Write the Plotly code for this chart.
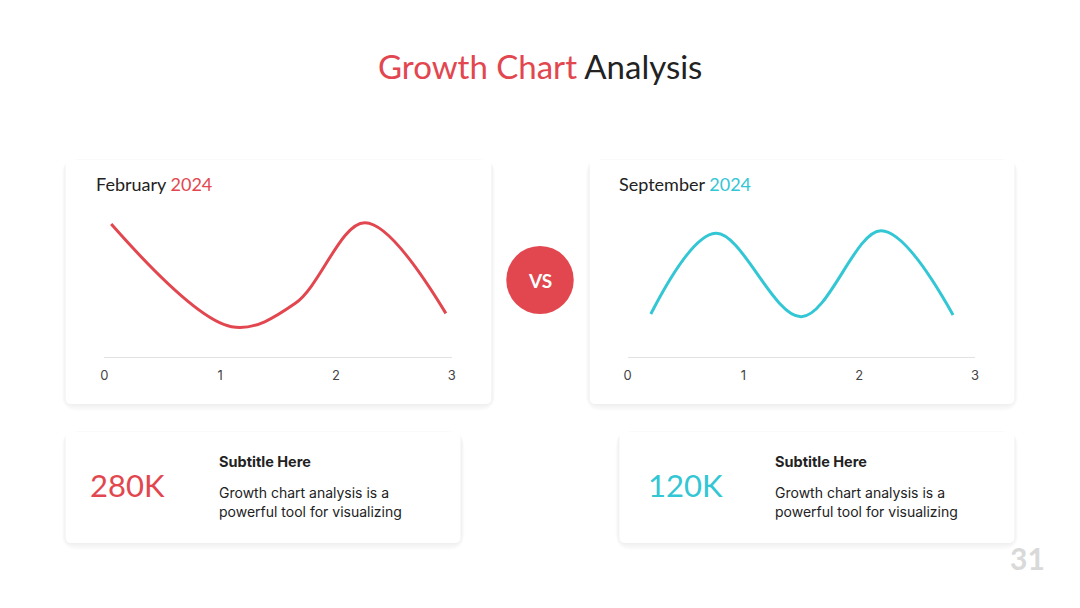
import plotly.graph_objects as go

W, H = 1080, 608
RED = "#E2474F"
CYAN = "#33C6D4"
DARK = "#222222"

# ---------------- data ----------------
feb_x = [0.06, 1.1, 1.65, 2.25, 2.95]
feb_y = [8.47, 1.93, 3.42, 8.55, 2.78]
sep_x = [0.2, 0.76, 1.5, 2.19, 2.81]
sep_y = [2.74, 7.88, 2.57, 8.04, 2.68]
tick_vals = [0, 1, 2, 3]
tick_text = ["0", "1", "2", "3"]
kpi_left = "280K"
kpi_right = "120K"

def px(x):
    return x / W

def py(y):
    return 1 - y / H

fig = go.Figure()

fig.add_trace(go.Scatter(x=feb_x, y=feb_y, mode="lines",
                         line=dict(color=RED, width=3, shape="spline", smoothing=1.0),
                         xaxis="x", yaxis="y", hoverinfo="skip", showlegend=False))
fig.add_trace(go.Scatter(x=sep_x, y=sep_y, mode="lines",
                         line=dict(color=CYAN, width=3, shape="spline", smoothing=1.0),
                         xaxis="x2", yaxis="y2", hoverinfo="skip", showlegend=False))

axis_common = dict(range=[0, 3], tickvals=tick_vals, ticktext=tick_text, showgrid=False,
                   zeroline=False, showline=True, linecolor="#E2E2E2", linewidth=1,
                   ticks="", tickfont=dict(family="Inter", size=13, color="#444444"),
                   fixedrange=True, ticklabelstandoff=6)
yaxis_common = dict(range=[0, 10], visible=False, fixedrange=True)

shapes = []

def rounded_rect(x0, y0, x1, y1, r=8):
    X0, X1 = px(x0), px(x1)
    Y0, Y1 = py(y0), py(y1)
    rx, ry = r / W, r / H
    return (f"M {X0+rx},{Y0} L {X1-rx},{Y0} Q {X1},{Y0} {X1},{Y0-ry} "
            f"L {X1},{Y1+ry} Q {X1},{Y1} {X1-rx},{Y1} L {X0+rx},{Y1} "
            f"Q {X0},{Y1} {X0},{Y1+ry} L {X0},{Y0-ry} Q {X0},{Y0} {X0+rx},{Y0} Z")

def card(x0, y0, x1, y1):
    for i in range(8):
        g = 8 - i
        shapes.append(dict(type="path", xref="paper", yref="paper",
                           path=rounded_rect(x0 - g * 0.5, y0 - g * 0.1, x1 + g * 0.5, y1 + g * 0.9, 8 + g),
                           fillcolor="#000000", opacity=0.008, line=dict(width=0), layer="below"))
    shapes.append(dict(type="path", xref="paper", yref="paper",
                       path=rounded_rect(x0, y0, x1, y1, 6),
                       fillcolor="#FFFFFF", line=dict(width=0), layer="below"))

card(62, 160, 491, 404)
card(590, 160, 1018, 404)
card(62, 432, 460, 543)
card(620, 432, 1018, 543)

# VS circle
shapes.append(dict(type="circle", xref="paper", yref="paper",
                   x0=px(506), x1=px(574), y0=py(314), y1=py(246),
                   fillcolor=RED, line=dict(width=0)))

annotations = []

def text(x, y, s, size, color, family="Lato", xanchor="left", bold=False):
    annotations.append(dict(x=px(x), y=py(y), xref="paper", yref="paper", text=s,
                            showarrow=False, xanchor=xanchor, yanchor="middle",
                            borderpad=0,
                            font=dict(family=family, size=size, color=color,
                                      weight="bold" if bold else "normal")))

text(540, 66, f"<span style='color:{RED}'>Growth Chart</span> Analysis", 33, DARK,
     family="Lato", xanchor="center")
text(92, 184, f"February <span style='color:{RED}'>2024</span>", 18, DARK)
text(619, 184, f"September <span style='color:{CYAN}'>2024</span>", 18, DARK)
text(540, 280, "VS", 19, "#FFFFFF", xanchor="center", bold=True)

text(86, 485, kpi_left, 31, RED)
text(648, 485, kpi_right, 31, CYAN)

for bx in (216, 776):
    text(bx, 461, "Subtitle Here", 14.5, DARK, family="Inter", bold=True)
    text(bx, 492, "Growth chart analysis is a", 14, DARK, family="Inter")
    text(bx, 511, "powerful tool for visualizing", 14, DARK, family="Inter")

text(1050, 558, "31", 30, "#D9D9D9", xanchor="right", bold=True)

fig.update_layout(
    width=W, height=H, margin=dict(l=0, r=0, t=0, b=0),
    paper_bgcolor="#FFFFFF", plot_bgcolor="rgba(0,0,0,0)",
    xaxis=dict(domain=[px(101), px(451)], anchor="y", **axis_common),
    yaxis=dict(domain=[py(357), py(200)], anchor="x", **yaxis_common),
    xaxis2=dict(domain=[px(628.3), px(978.3)], anchor="y2", **axis_common),
    yaxis2=dict(domain=[py(357), py(200)], anchor="x2", **yaxis_common),
    shapes=shapes, annotations=annotations,
)

fig.write_html("out.html", config={"displayModeBar": False})
